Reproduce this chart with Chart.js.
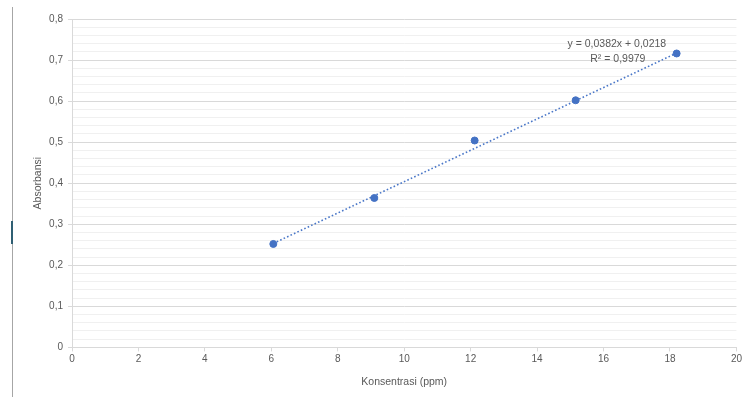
<!DOCTYPE html>
<html>
<head>
<meta charset="utf-8">
<script src="https://cdn.jsdelivr.net/npm/chart.js@4"></script>
<style>
  html, body { margin: 0; padding: 0; background: #ffffff; }
  #wrap { position: relative; width: 744px; height: 397px; }
</style>
</head>
<body>
<div id="wrap"><canvas id="c" width="744" height="397"></canvas></div>
<script>
// Calibration standards: concentration (ppm) vs absorbance
const konsentrasi = [6.06, 9.1, 12.12, 15.16, 18.2];
const absorbansi = [0.252, 0.364, 0.504, 0.602, 0.716];

// Linear trendline as stated in the equation label
const trendSlope = [0.0382];
const trendIntercept = [0.0218];
const trendLabel = ['y = 0,0382x + 0,0218', 'R² = 0,9979'];

const xTicks = [0, 2, 4, 6, 8, 10, 12, 14, 16, 18, 20];
const yTicks = [0, 0.1, 0.2, 0.3, 0.4, 0.5, 0.6, 0.7, 0.8];

const FONT = "'Liberation Sans', Arial, sans-serif";
const TEXT = '#595959';

const xMin = Math.min(...konsentrasi), xMax = Math.max(...konsentrasi);
const trendData = [xMin, xMax].map(x => ({ x, y: trendSlope[0] * x + trendIntercept[0] }));
const points = konsentrasi.map((x, i) => ({ x, y: absorbansi[i] }));

const isMajor = v => yTicks.some(t => Math.abs(t - v) < 1e-6);
const fmt = v => String(Math.round(v * 10) / 10).replace('.', ',');

// thin frame line on the left edge of the canvas
const frameLine = {
  id: 'frameLine',
  beforeDraw(chart) {
    const ctx = chart.ctx;
    ctx.save();
    ctx.strokeStyle = '#a6a6a6';
    ctx.lineWidth = 1;
    ctx.beginPath();
    ctx.moveTo(12.5, 7);
    ctx.lineTo(12.5, 397);
    ctx.stroke();
    ctx.strokeStyle = '#2f5f73';
    ctx.lineWidth = 2;
    ctx.beginPath();
    ctx.moveTo(12, 221);
    ctx.lineTo(12, 244);
    ctx.stroke();
    ctx.restore();
  }
};

// equation and R² text next to the trendline
const trendText = {
  id: 'trendText',
  afterDatasetsDraw(chart) {
    const ctx = chart.ctx;
    const xs = chart.scales.x, ys = chart.scales.y;
    const cx = xs.getPixelForValue(16.4);
    const y1 = ys.getPixelForValue(0.74);
    ctx.save();
    ctx.font = '10.5px ' + FONT;
    ctx.fillStyle = TEXT;
    ctx.textAlign = 'center';
    ctx.textBaseline = 'middle';
    ctx.fillText(trendLabel[0], cx, y1);
    ctx.fillText(trendLabel[1], cx + 1, y1 + 15);
    ctx.restore();
  }
};

new Chart(document.getElementById('c'), {
  type: 'scatter',
  data: {
    datasets: [
      {
        label: 'Absorbansi',
        data: points,
        backgroundColor: '#4472c4',
        borderColor: '#4472c4',
        pointRadius: 3.5,
        pointHoverRadius: 3.5,
        order: 0
      },
      {
        label: 'Linear',
        type: 'line',
        data: trendData,
        borderColor: '#4a77c8',
        borderWidth: 1.6,
        borderDash: [1.6, 2.2],
        pointRadius: 0,
        fill: false,
        order: 1
      }
    ]
  },
  options: {
    responsive: false,
    animation: false,
    events: [],
    layout: { padding: { left: 32, right: 0, top: 19, bottom: 9 } },
    plugins: { legend: { display: false }, tooltip: { enabled: false } },
    scales: {
      x: {
        type: 'linear',
        min: 0, max: 20,
        afterBuildTicks: s => { s.ticks = xTicks.map(v => ({ value: v })); },
        ticks: {
          color: TEXT,
          font: { family: FONT, size: 10 },
          padding: 2,
          maxRotation: 0,
          autoSkip: false,
          callback: v => String(v)
        },
        grid: {
          drawOnChartArea: false,
          drawTicks: true,
          tickLength: 4,
          tickColor: '#d9d9d9'
        },
        border: { display: true, color: '#d9d9d9' },
        title: {
          display: true,
          text: 'Konsentrasi (ppm)',
          color: TEXT,
          font: { family: FONT, size: 10.5 },
          padding: { top: 8, bottom: 0 }
        }
      },
      y: {
        type: 'linear',
        min: 0, max: 0.8,
        afterBuildTicks: s => {
          const t = [];
          for (let i = 0; i <= 40; i++) t.push({ value: i * 0.02 });
          s.ticks = t;
        },
        afterFit: s => { s.width = 40; },
        ticks: {
          color: TEXT,
          font: { family: FONT, size: 10 },
          padding: 5,
          autoSkip: false,
          callback: v => (isMajor(v) ? fmt(v) : '')
        },
        grid: {
          color: ctx => (isMajor(ctx.tick.value) ? '#d9d9d9' : '#f0f0f0'),
          lineWidth: 1,
          tickLength: 4,
          tickColor: ctx => (isMajor(ctx.tick.value) ? '#d9d9d9' : 'rgba(0,0,0,0)')
        },
        border: { display: true, color: '#d9d9d9' },
        title: {
          display: true,
          text: 'Absorbansi',
          color: TEXT,
          font: { family: FONT, size: 10.5 },
          padding: { top: 0, bottom: 4 }
        }
      }
    }
  },
  plugins: [frameLine, trendText]
});
</script>
</body>
</html>
